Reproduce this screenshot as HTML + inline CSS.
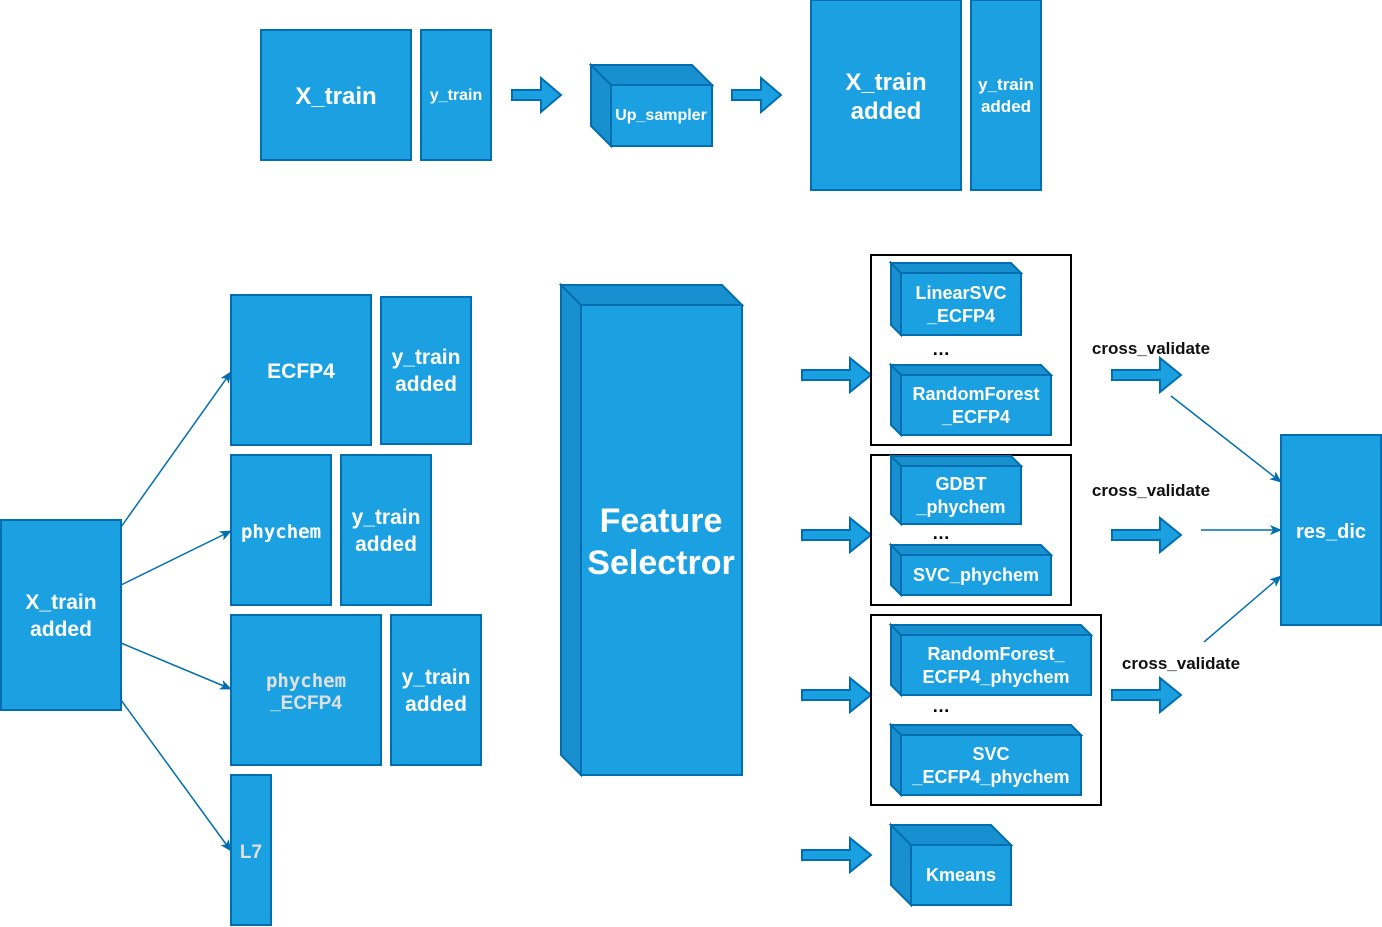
<!DOCTYPE html><html><head><style>body{margin:0;background:#fff}svg{display:block}
text{font-family:"Liberation Sans",Arial,sans-serif;font-weight:bold;fill:#fff;text-anchor:middle}
.r{fill:#1ba1e2;stroke:#006eaf;stroke-width:2}.s{fill:#1890d0;stroke:#006eaf;stroke-width:2}
.b{fill:none;stroke:#000;stroke-width:2}.l{stroke:#006eaf;stroke-width:1.5;fill:none}
.k{fill:#000;font-weight:normal}</style></head><body>
<svg width="1382" height="927" viewBox="0 0 1382 927" xmlns="http://www.w3.org/2000/svg">
<defs><marker id="m" markerWidth="12" markerHeight="12" refX="11" refY="6" orient="auto" markerUnits="userSpaceOnUse"><path d="M0,1 L12,6 L0,11 L3,6z" fill="#006eaf"/></marker>
<g id="ar"><path d="M0,-5 H29 V-17 L49,0 L29,17 V5 H0z" class="r"/></g>
<g id="ar2"><path d="M0,-5 H48 V-17 L69,0 L48,17 V5 H0z" class="r"/></g></defs>
<!-- top -->
<rect class="r" x="261" y="30" width="150" height="130"/><text x="336" y="104" font-size="24">X_train</text>
<rect class="r" x="421" y="30" width="70" height="130"/><text x="456" y="100" font-size="16">y_train</text>
<use href="#ar" x="512" y="95"/><use href="#ar" x="732" y="95"/>
<path class="s" d="M591,65 L611,85 V146 L591,126z"/><path class="s" d="M591,65 H692 L712,85 H611z"/>
<rect class="r" x="611" y="85" width="101" height="61"/><text x="661" y="120" font-size="16">Up_sampler</text>
<rect class="r" x="811" y="0" width="150" height="190"/><text x="886" y="90" font-size="24">X_train</text><text x="886" y="119" font-size="24">added</text>
<rect class="r" x="971" y="0" width="70" height="190"/><text x="1006" y="90" font-size="17">y_train</text><text x="1006" y="112" font-size="17">added</text>
<!-- left -->
<rect class="r" x="1" y="520" width="120" height="190"/><text x="61" y="609" font-size="21">X_train</text><text x="61" y="636" font-size="21">added</text>
<line class="l" x1="121" y1="527" x2="231" y2="372" marker-end="url(#m)"/>
<line class="l" x1="121" y1="585" x2="231" y2="531" marker-end="url(#m)"/>
<line class="l" x1="121" y1="643" x2="231" y2="689" marker-end="url(#m)"/>
<line class="l" x1="121" y1="700" x2="231" y2="851" marker-end="url(#m)"/>
<rect class="r" x="231" y="295" width="140" height="150"/><text x="301" y="378" font-size="21">ECFP4</text>
<rect class="r" x="381" y="297" width="90" height="147"/><text x="426" y="364" font-size="21">y_train</text><text x="426" y="391" font-size="21">added</text>
<rect class="r" x="231" y="455" width="100" height="150"/><text x="281" y="538" font-size="19" style="font-family:'DejaVu Sans Mono',monospace">phychem</text>
<rect class="r" x="341" y="455" width="90" height="150"/><text x="386" y="524" font-size="21">y_train</text><text x="386" y="551" font-size="21">added</text>
<rect class="r" x="231" y="615" width="150" height="150"/><text x="306" y="687" font-size="19" style="font-family:'DejaVu Sans Mono',monospace;fill:#e0e0e0">phychem</text><text x="306" y="709" font-size="19" style="fill:#e0e0e0">_ECFP4</text>
<rect class="r" x="391" y="615" width="90" height="150"/><text x="436" y="684" font-size="21">y_train</text><text x="436" y="711" font-size="21">added</text>
<rect class="r" x="231" y="775" width="40" height="150"/><text x="251" y="858" font-size="19" style="fill:#e0e0e0">L7</text>
<!-- feature selector -->
<path class="s" d="M561,285 L581,305 V775 L561,755z"/><path class="s" d="M561,285 H722 L742,305 H581z"/>
<rect class="r" x="581" y="305" width="161" height="470"/><text x="661" y="532" font-size="34">Feature</text><text x="661" y="574" font-size="34">Selectror</text>
<use href="#ar2" x="802" y="375"/><use href="#ar2" x="802" y="535"/><use href="#ar2" x="802" y="695"/><use href="#ar2" x="802" y="855"/>
<rect class="b" x="871" y="255" width="200" height="190"/><rect class="b" x="871" y="455" width="200" height="150"/><rect class="b" x="871" y="615" width="230" height="190"/>
<path class="s" d="M891,263 L901,273 V335 L891,325z"/><path class="s" d="M891,263 H1011 L1021,273 H901z"/><rect class="r" x="901" y="273" width="120" height="62"/>
<text x="961" y="299" font-size="18">LinearSVC</text><text x="961" y="322" font-size="18">_ECFP4</text>
<text x="941" y="355" font-size="18" class="k" style="font-weight:bold">…</text>
<path class="s" d="M891,365 L901,375 V435 L891,425z"/><path class="s" d="M891,365 H1041 L1051,375 H901z"/><rect class="r" x="901" y="375" width="150" height="60"/>
<text x="976" y="400" font-size="18">RandomForest</text><text x="976" y="423" font-size="18">_ECFP4</text>
<path class="s" d="M891,456 L901,466 V524 L891,514z"/><path class="s" d="M891,456 H1011 L1021,466 H901z"/><rect class="r" x="901" y="466" width="120" height="58"/>
<text x="961" y="490" font-size="18">GDBT</text><text x="961" y="513" font-size="18">_phychem</text>
<text x="941" y="539" font-size="18" class="k" style="font-weight:bold">…</text>
<path class="s" d="M891,545 L901,555 V595 L891,585z"/><path class="s" d="M891,545 H1041 L1051,555 H901z"/><rect class="r" x="901" y="555" width="150" height="40"/>
<text x="976" y="581" font-size="18">SVC_phychem</text>
<path class="s" d="M891,625 L901,635 V695 L891,685z"/><path class="s" d="M891,625 H1081 L1091,635 H901z"/><rect class="r" x="901" y="635" width="190" height="60"/>
<text x="996" y="660" font-size="18">RandomForest_</text><text x="996" y="683" font-size="18">ECFP4_phychem</text>
<text x="941" y="712" font-size="18" class="k" style="font-weight:bold">…</text>
<path class="s" d="M891,725 L901,735 V795 L891,785z"/><path class="s" d="M891,725 H1071 L1081,735 H901z"/><rect class="r" x="901" y="735" width="180" height="60"/>
<text x="991" y="760" font-size="18">SVC</text><text x="991" y="783" font-size="18">_ECFP4_phychem</text>
<path class="s" d="M891,825 L911,845 V905 L891,885z"/><path class="s" d="M891,825 H991 L1011,845 H911z"/><rect class="r" x="911" y="845" width="100" height="60"/>
<text x="961" y="881" font-size="18">Kmeans</text>
<!-- right -->
<text class="k" x="1151" y="354" font-size="17" style="font-weight:bold;fill:#111">cross_validate</text>
<text class="k" x="1151" y="496" font-size="17" style="font-weight:bold;fill:#111">cross_validate</text>
<text class="k" x="1181" y="669" font-size="17" style="font-weight:bold;fill:#111">cross_validate</text>
<use href="#ar2" x="1112" y="375"/><use href="#ar2" x="1112" y="535"/><use href="#ar2" x="1112" y="695"/>
<line class="l" x1="1171" y1="396" x2="1281" y2="482" marker-end="url(#m)"/>
<line class="l" x1="1201" y1="530" x2="1281" y2="530" marker-end="url(#m)"/>
<line class="l" x1="1204" y1="642" x2="1281" y2="576" marker-end="url(#m)"/>
<rect class="r" x="1281" y="435" width="100" height="190"/><text x="1331" y="538" font-size="20">res_dic</text>
</svg></body></html>
